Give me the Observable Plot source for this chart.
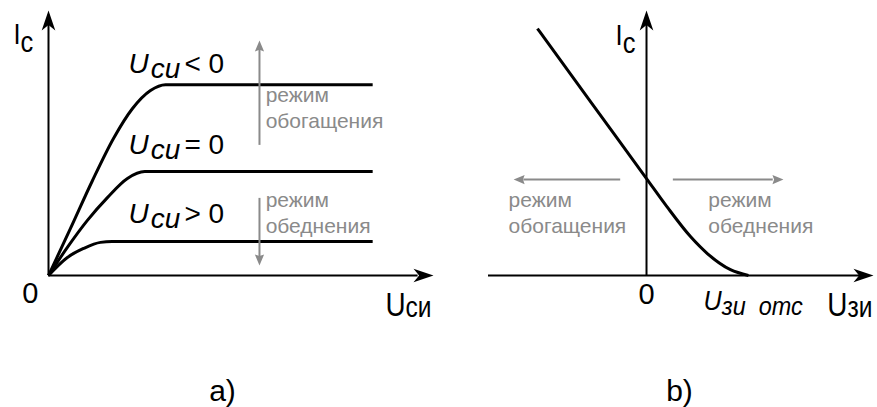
<!DOCTYPE html>
<html>
<head>
<meta charset="utf-8">
<script src="https://cdn.jsdelivr.net/npm/d3@7"></script>
<script src="https://cdn.jsdelivr.net/npm/@observablehq/plot@0.6"></script>
<style>
  html, body { margin: 0; padding: 0; background: #fff; }
  #fig { display: flex; width: 877px; height: 407px; overflow: hidden; }
  #fig svg { display: block; overflow: visible; }
</style>
</head>
<body>
<div id="fig"></div>
<script>
// a) Output characteristics Ic(Uси) for three gate biases
const uNeg  = [0, 0.571, 1.143, 1.688, 2.182, 2.649, 3.04, 8.42];
const iNeg  = [0, 1.774, 3.585, 5.170, 6.302, 6.981, 7.20, 7.20];
const uZero = [0, 0.49, 1.01, 1.53, 2.05, 2.50, 8.42];
const iZero = [0, 1.06, 2.08, 2.94, 3.66, 3.92, 3.92];
const uPos  = [0, 0.49, 0.91, 1.35, 1.65, 8.42];
const iPos  = [0, 0.68, 1.02, 1.25, 1.28, 1.28];
const biasSigns = ["< 0", "= 0", "> 0"];

// b) Transfer characteristic Ic(Uзи), cut-off at Uзи отс
const uGate = [-3.21, -1.60, 0, 0.60, 1.30, 1.79, 2.47, 3.00];
const iGate = [9.32, 6.48, 3.66, 2.60, 1.46, 0.83, 0.22, 0];

const modeUp = ["режим", "обогащения"];
const modeDown = ["режим", "обеднения"];

const sans = '"Liberation Sans", Arial, Helvetica, sans-serif';
const grey = "#8a8a8a";

// filled "stealth" arrowheads, tip at the anchor, pointing up before rotation
const makeHead = (wr, nr) => ({
  draw(ctx, size) {
    const L = Math.sqrt(size / Math.PI), w = L * wr, n = L * nr;
    ctx.moveTo(0, 0);
    ctx.lineTo(w, L);
    ctx.lineTo(0, n);
    ctx.lineTo(-w, L);
    ctx.closePath();
  }
});
const arrowHead = makeHead(0.34, 0.72);
const greyHead = makeHead(0.42, 0.85);

// label strings "base_sub^rest" are split into tspans after rendering;
// sx < 1 gives the condensed look of the axis names
const subFormat = {
  "I_с": {scale: 1, shift: 8, dx: 0, sx: 0.85},
  "U_си": {scale: 0.88, shift: 1, dx: 0, sx: 0.82},
  "U_зи": {scale: 0.88, shift: 1, dx: 0, sx: 0.82},
  "U_си^< 0": {scale: 1, shift: 5, dx: 2, gap: 4},
  "U_си^= 0": {scale: 1, shift: 5, dx: 2, gap: 4},
  "U_си^> 0": {scale: 1, shift: 5, dx: 2, gap: 4},
  "U_зи\u00a0\u00a0отс": {scale: 0.93, shift: 5, dx: 0, sx: 0.9}
};
function setSubscripts(svg) {
  const ns = "http://www.w3.org/2000/svg";
  svg.querySelectorAll("text").forEach((t) => {
    const s = t.textContent, f = subFormat[s];
    if (!f) return;
    const [base, tail] = s.split("_");
    const [sub, rest] = tail.split("^");
    t.textContent = "";
    const add = (str, attrs) => {
      const ts = document.createElementNS(ns, "tspan");
      ts.textContent = str;
      for (const k in attrs) ts.setAttribute(k, attrs[k]);
      t.append(ts);
    };
    add(base, {});
    add(sub, {dy: f.shift, dx: f.dx, "font-size": `${f.scale}em`});
    if (rest) add(rest, {dy: -f.shift, dx: f.gap, "font-style": "normal"});
    if (f.sx) {
      const x = +(t.getAttribute("x") || 0), y = +(t.getAttribute("y") || 0);
      const prev = t.getAttribute("transform") || "";
      t.setAttribute("transform", `${prev} translate(${x},${y}) scale(${f.sx},1) translate(${-x},${-y})`);
    }
  });
  return svg;
}

const rows = (us, is, s) => us.map((u, k) => ({u, i: is[k], s}));
const outRows = [
  ...rows(uNeg, iNeg, biasSigns[0]),
  ...rows(uZero, iZero, biasSigns[1]),
  ...rows(uPos, iPos, biasSigns[2])
];
const plateaus = [iNeg.at(-1), iZero.at(-1), iPos.at(-1)];
const labelLift = [-12, -18, -19];

const yMax = 10;
const head = (x, y, rotate, symbol = arrowHead, r = 20, fill = "black") =>
  Plot.dot([{x, y}], {x: "x", y: "y", symbol, r, rotate, fill, stroke: "none"});
const txt = (x, y, text, o = {}) =>
  Plot.text([{x, y, text}], {x: "x", y: "y", text: "text", textAnchor: "start", lineAnchor: "bottom", fill: "black", fontSize: 28, ...o});

// ---------- panel a ----------
const xMaxA = 10;
const upperArrow = [4.91, 8.87], lowerArrow = [2.91, 0.38], arrowX = 5.48;
const marksA = [
  Plot.ruleY([0], {x1: 0, x2: xMaxA - 0.4, stroke: "black", strokeWidth: 2}),
  Plot.ruleX([0], {y1: 0, y2: yMax - 0.5, stroke: "black", strokeWidth: 2}),
  head(xMaxA, 0, 90),
  head(0, yMax, 0),
  Plot.line(outRows, {x: "u", y: "i", z: "s", curve: "monotone-x", stroke: "black", strokeWidth: 3, strokeLinecap: "butt"}),
  // mode arrows
  Plot.ruleX([arrowX], {y1: upperArrow[0], y2: upperArrow[1] - 0.3, stroke: grey, strokeWidth: 2}),
  Plot.ruleX([arrowX], {y1: lowerArrow[0], y2: lowerArrow[1] + 0.3, stroke: grey, strokeWidth: 2}),
  head(arrowX, upperArrow[1], 0, greyHead, 11, grey),
  head(arrowX, lowerArrow[1], 180, greyHead, 11, grey),
  txt(arrowX + 0.16, 6.53, modeUp[0], {fill: grey, fontSize: 21}),
  txt(arrowX + 0.16, 5.55, modeUp[1], {fill: grey, fontSize: 21}),
  txt(arrowX + 0.16, 2.57, modeDown[0], {fill: grey, fontSize: 21}),
  txt(arrowX + 0.16, 1.62, modeDown[1], {fill: grey, fontSize: 21}),
  // axis names and origin
  txt(-0.91, 8.75, "I_с", {fontSize: 30}),
  txt(8.75, -1.51, "U_си", {fontSize: 34}),
  txt(-0.47, -1.02, "0", {textAnchor: "middle", fontSize: 29}),
  txt(4.52, -4.72, "a)", {textAnchor: "middle", fontSize: 30})
];
biasSigns.forEach((sign, k) => {
  marksA.push(txt(2.08, plateaus[k], `U_си^${sign}`, {fontStyle: "italic", dy: labelLift[k]}));
});

const plotA = setSubscripts(Plot.plot({
  width: 438, height: 407,
  marginLeft: 48, marginRight: 5, marginTop: 10, marginBottom: 132,
  x: {domain: [0, xMaxA], axis: null},
  y: {domain: [0, yMax], axis: null},
  style: {fontFamily: sans, background: "white", overflow: "visible"},
  marks: marksA
}));

// ---------- panel b ----------
const xMinB = -4.65, xMaxB = 6.68;
const iCross = iGate[uGate.indexOf(0)];
const uCut = uGate.at(-1);
const marksB = [
  Plot.ruleY([0], {x1: xMinB, x2: xMaxB - 0.35, stroke: "black", strokeWidth: 2}),
  Plot.ruleX([0], {y1: 0, y2: yMax - 0.5, stroke: "black", strokeWidth: 2}),
  head(xMaxB, 0, 90),
  head(0, yMax, 0),
  Plot.line(rows(uGate, iGate, "b"), {x: "u", y: "i", curve: "monotone-x", stroke: "black", strokeWidth: 3, strokeLinecap: "butt"}),
  // mode arrows
  Plot.ruleY([iCross], {x1: -0.76, x2: -3.91 + 0.3, stroke: grey, strokeWidth: 2, dy: 1}),
  Plot.ruleY([iCross], {x1: 0.79, x2: 4.03 - 0.3, stroke: grey, strokeWidth: 2, dy: 1}),
  Plot.dot([{x: -3.91, y: iCross}], {x: "x", y: "y", symbol: greyHead, r: 11, rotate: -90, fill: grey, stroke: "none", dy: 1}),
  Plot.dot([{x: 4.03, y: iCross}], {x: "x", y: "y", symbol: greyHead, r: 11, rotate: 90, fill: grey, stroke: "none", dy: 1}),
  txt(-4.06, 2.57, modeUp[0], {fill: grey, fontSize: 21}),
  txt(-4.06, 1.62, modeUp[1], {fill: grey, fontSize: 21}),
  txt(1.82, 2.57, modeDown[0], {fill: grey, fontSize: 21}),
  txt(1.82, 1.62, modeDown[1], {fill: grey, fontSize: 21}),
  // axis names, origin and cut-off voltage
  txt(-0.91, 8.68, "I_с", {fontSize: 30}),
  txt(5.32, -1.51, "U_зи", {fontSize: 34}),
  txt(0, -1.06, "0", {textAnchor: "middle", fontSize: 29}),
  txt(uCut - 1.32, -1.32, "U_зи\u00a0\u00a0отс", {fontStyle: "italic"}),
  txt(0.97, -4.72, "b)", {textAnchor: "middle", fontSize: 30})
];

const plotB = setSubscripts(Plot.plot({
  width: 439, height: 407,
  marginLeft: 50, marginRight: 4, marginTop: 10, marginBottom: 132,
  x: {domain: [xMinB, xMaxB], axis: null},
  y: {domain: [0, yMax], axis: null},
  style: {fontFamily: sans, background: "white", overflow: "visible"},
  marks: marksB
}));

document.getElementById("fig").append(plotA, plotB);
</script>
</body>
</html>
